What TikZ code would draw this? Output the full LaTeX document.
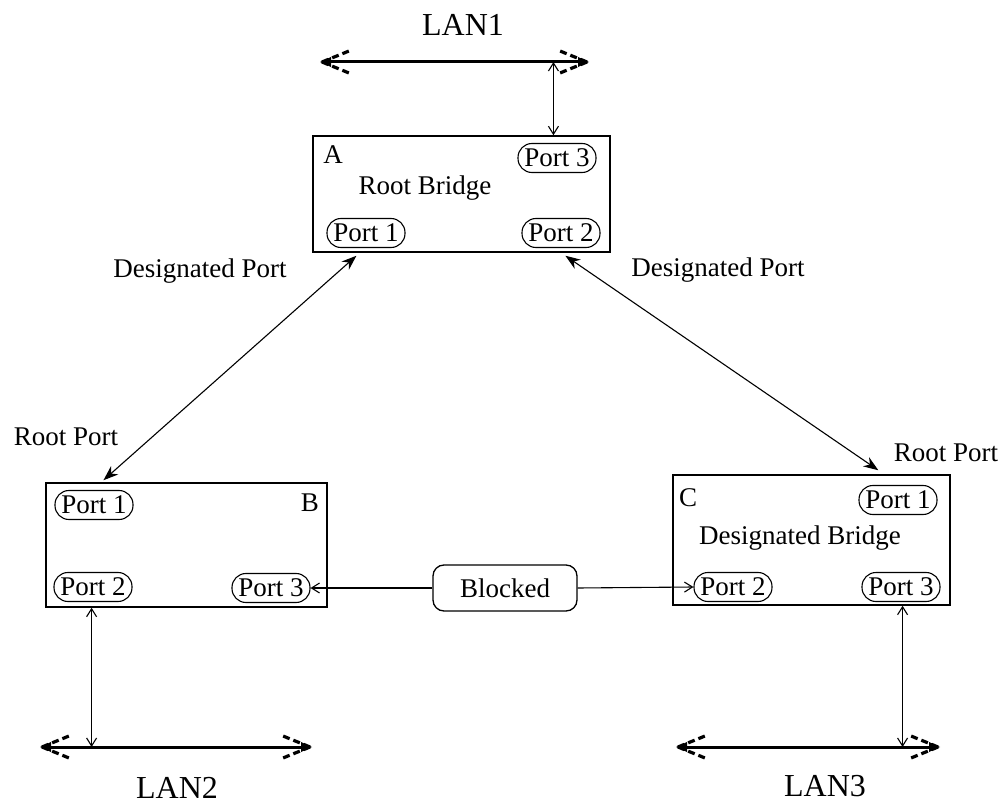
\documentclass[tikz,border=0pt]{standalone}
\usepackage{fontspec}
\setmainfont{Liberation Serif}
\usetikzlibrary{arrows.meta,calc}

\tikzset{
  txt/.style={font=\fontsize{27}{32}\selectfont, inner sep=0pt},
  lantxt/.style={font=\fontsize{32}{38}\selectfont, inner sep=0pt},
  bridge/.style={draw, line width=1.5pt, minimum width=#1, inner sep=0pt},
  port/.style={draw, line width=1.1pt, rounded corners=14pt, minimum width=78pt,
               minimum height=29pt, inner sep=0pt, font=\fontsize{27}{32}\selectfont},
  blockbox/.style={draw, line width=1.3pt, rounded corners=11pt, minimum width=144pt,
               minimum height=46pt, inner sep=0pt, font=\fontsize{27}{32}\selectfont},
  link/.style={line width=1.1pt, {Stealth[length=15pt,width=11pt]}-{Stealth[length=15pt,width=11pt]}},
  tap/.style={line width=1.1pt, {Straight Barb[length=8pt,width=10pt]}-{Straight Barb[length=8pt,width=10pt]}},
  tapone/.style={line width=1.1pt, -{Straight Barb[length=8pt,width=10pt]}},
  bus/.style={line width=3pt},
  barb/.style={line width=3.2pt, dash pattern=on 7pt off 4pt},
}

% bus end with dashed barbs; #1 = tip, #2 = +1 or -1 (direction back along the bus)
\newcommand{\busend}[2]{%
  \fill (#1) ++(#2*-2,0) -- ++(#2*11,-5) -- ++(0,10) -- cycle;
  \draw[barb] (#1) -- ++(#2*27,-11);
  \draw[barb] (#1) -- ++(#2*27,11);
}

\begin{document}
\begin{tikzpicture}[x=1pt,y=-1pt]
\useasboundingbox (0,0) rectangle (1005,805);

% bridges
\node[bridge=297pt, minimum height=116pt] (A) at (461.5,194) {};
\node[bridge=281pt, minimum height=124pt] (B) at (186.5,545) {};
\node[bridge=277pt, minimum height=130pt] (C) at (811.5,540) {};

% bridge texts
\node[txt] (Aname) at (333,155) {A};
\node[txt] (Atitle) at (425,188) {Root Bridge};
\node[txt] (Bname) at (310,503) {B};
\node[txt] (Cname) at (688,498) {C};
\node[txt] (Ctitle) at (800,538) {Designated Bridge};

% ports
\node[port] (A3) at (557,158) {Port 3};
\node[port] (A1) at (366,233) {Port 1};
\node[port] (A2) at (561,233) {Port 2};
\node[port] (B1) at (94,505) {Port 1};
\node[port] (B2) at (93,587) {Port 2};
\node[port] (B3) at (271,588) {Port 3};
\node[port] (C1) at (898,500) {Port 1};
\node[port] (C2) at (733,587) {Port 2};
\node[port] (C3) at (901,587) {Port 3};

\node[blockbox] (blk) at (505,588) {Blocked};

% role labels
\node[txt] (dpl) at (200,271) {Designated Port};
\node[txt] (dpr) at (718,270) {Designated Port};
\node[txt] (rpl) at (66,437) {Root Port};
\node[txt] (rpr) at (946,453) {Root Port};

% LAN segments
\coordinate (L1a) at (322,62);
\coordinate (L1b) at (587,62);
\coordinate (L2a) at (42,747);
\coordinate (L2b) at (310,747);
\coordinate (L3a) at (678,747);
\coordinate (L3b) at (938,747);

\draw[bus] (L1a) -- (L1b);
\draw[bus] (L2a) -- (L2b);
\draw[bus] (L3a) -- (L3b);
\busend{L1a}{1}\busend{L1b}{-1}
\busend{L2a}{1}\busend{L2b}{-1}
\busend{L3a}{1}\busend{L3b}{-1}

\node[lantxt] (lan1) at (463,25) {LAN1};
\node[lantxt] (lan2) at (177,788) {LAN2};
\node[lantxt] (lan3) at (825,786) {LAN3};

% LAN taps
\coordinate (t1) at ($(A.north west)!0.808!(A.north east)$);
\coordinate (t2) at ($(B.south west)!0.164!(B.south east)$);
\coordinate (t3) at ($(C.south west)!0.827!(C.south east)$);
\draw[tap] (t1 |- L1a) -- (t1);
\draw[tap] (t2) -- (t2 |- L2a);
\draw[tap] (t3) -- (t3 |- L3a);

% links between bridges
\draw[link] ($(A.south west)!0.148!(A.south east)+(0,3)$) -- ($(B.north west)!0.206!(B.north east)+(0,-2)$);
\draw[link] ($(A.south west)!0.848!(A.south east)+(0,3)$) -- ($(C.north west)!0.74!(C.north east)+(0,-4)$);

% blocked path
\draw[tapone] (blk.west) -- (B3.east);
\draw[tapone] (blk.east) -- (C2.west);
\end{tikzpicture}
\end{document}
